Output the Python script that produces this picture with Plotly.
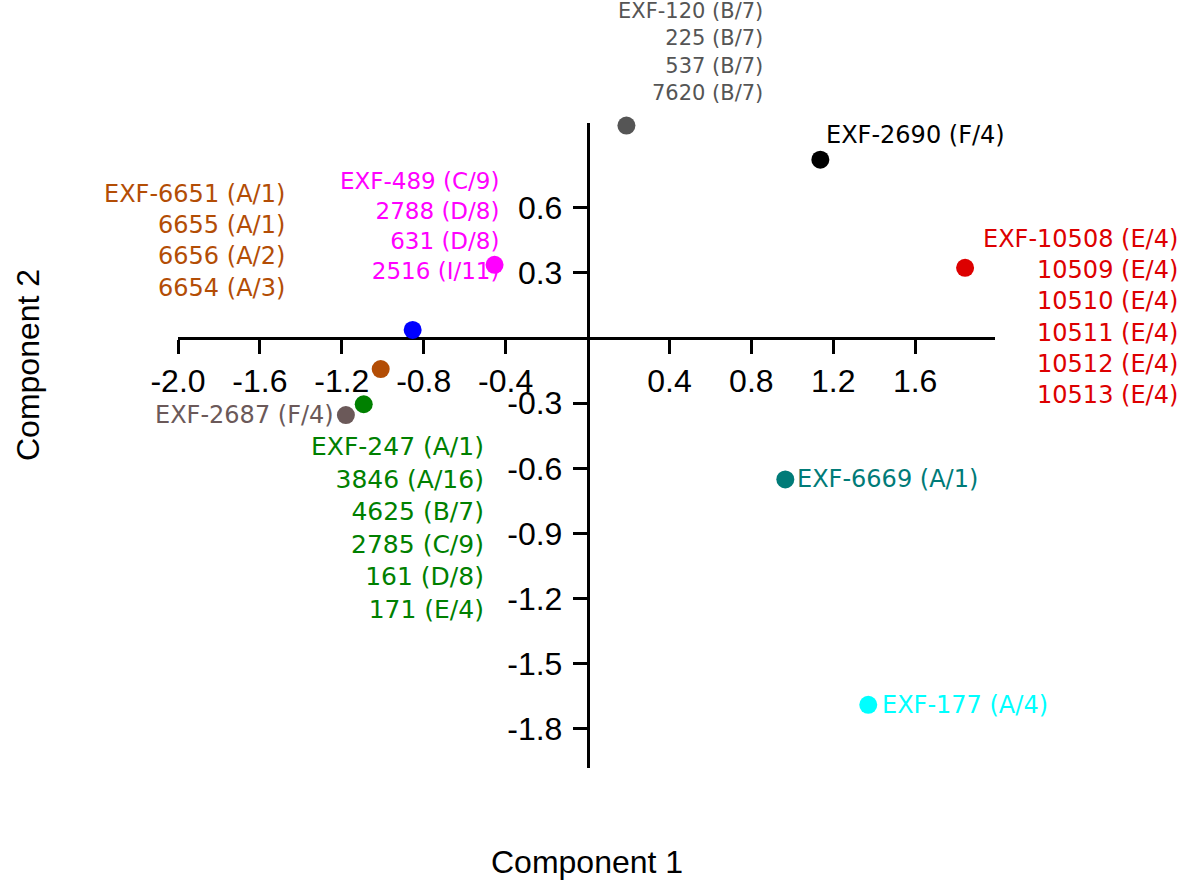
import plotly.graph_objects as go

# ---- data ----
groups = ["gray", "black", "magenta", "red", "blue", "brown", "green", "graybrown", "teal", "cyan"]
comp1 = [0.19, 1.137, -0.454, 1.844, -0.854, -1.01, -1.093, -1.18, 0.966, 1.371]
comp2 = [0.978, 0.821, 0.337, 0.323, 0.037, -0.143, -0.305, -0.355, -0.651, -1.689]
labels = [
    ["EXF-120 (B/7)", "225 (B/7)", "537 (B/7)", "7620 (B/7)"],
    ["EXF-2690 (F/4)"],
    ["EXF-489 (C/9)", "2788 (D/8)", "631 (D/8)", "2516 (I/11)"],
    ["EXF-10508 (E/4)", "10509 (E/4)", "10510 (E/4)", "10511 (E/4)", "10512 (E/4)", "10513 (E/4)"],
    [],
    ["EXF-6651 (A/1)", "6655 (A/1)", "6656 (A/2)", "6654 (A/3)"],
    ["EXF-247 (A/1)", "3846 (A/16)", "4625 (B/7)", "2785 (C/9)", "161 (D/8)", "171 (E/4)"],
    ["EXF-2687 (F/4)"],
    ["EXF-6669 (A/1)"],
    ["EXF-177 (A/4)"],
]
x_ticks = [-2.0, -1.6, -1.2, -0.8, -0.4, 0.4, 0.8, 1.2, 1.6]
y_ticks = [-1.8, -1.5, -1.2, -0.9, -0.6, -0.3, 0.3, 0.6]
x_title = "Component 1"
y_title = "Component 2"

# ---- styles ----
colors = ["#555555", "#000000", "#ff00ff", "#dd0000", "#0000ff", "#b34d05",
          "#008000", "#6b5959", "#007b78", "#00ffff"]
# label placement: (xanchor, yanchor, xshift, yshift, align, fontsize)
placement = [
    ("right", "bottom", 139, 19, "right", 21),
    ("left", "middle", 4, 25, "left", 24),
    ("right", "bottom", 6, -21, "right", 23),
    ("right", "top", 215, 45, "right", 24),
    None,
    ("right", "top", -94, 191, "right", 24),
    ("right", "top", 122, -26, "right", 25),
    ("right", "middle", -10, 0, "right", 24),
    ("left", "middle", 10, 0, "left", 24),
    ("left", "middle", 12, 0, "left", 24),
]

x_range = [-2.0, 1.99]
y_range = [-1.98, 0.99]

fig = go.Figure()
fig.add_trace(go.Scatter(
    x=comp1, y=comp2, mode="markers",
    marker=dict(size=18, color=colors, line=dict(width=0)),
    hoverinfo="skip", showlegend=False, cliponaxis=False,
))

annotations = []
for i, labs in enumerate(labels):
    if not labs or placement[i] is None:
        continue
    xa, ya, xs, ys, al, fs = placement[i]
    annotations.append(dict(
        x=comp1[i], y=comp2[i], xref="x", yref="y",
        text="<br>".join(labs), showarrow=False,
        xanchor=xa, yanchor=ya, xshift=xs, yshift=ys, align=al,
        font=dict(family="Verdana, DejaVu Sans, sans-serif", size=fs, color=colors[i]),
    ))

axis_font = dict(family="Arial, Liberation Sans, sans-serif", size=32, color="#000000")
annotations.append(dict(
    x=0.5006, y=-0.1457, xref="paper", yref="paper", text=x_title, showarrow=False,
    xanchor="center", yanchor="middle", font=axis_font,
))
annotations.append(dict(
    x=-0.1836, y=0.6248, xref="paper", yref="paper", text=y_title, showarrow=False,
    xanchor="center", yanchor="middle", textangle=-90, font=axis_font,
))

fmt = lambda v: "%.1f" % v
tick_font = dict(family="Arial, Liberation Sans, sans-serif", size=32, color="black")

fig.update_layout(
    width=1181, height=885,
    margin=dict(l=178, r=186, t=123, b=117, pad=0),
    paper_bgcolor="white", plot_bgcolor="white",
    annotations=annotations,
    xaxis=dict(
        range=x_range, anchor="free",
        position=(0 - y_range[0]) / (y_range[1] - y_range[0]),
        showgrid=False, zeroline=False, showline=True, linecolor="black", linewidth=2.5,
        ticks="outside", ticklen=14, tickwidth=2.5, tickcolor="black",
        tickvals=x_ticks, ticktext=[fmt(v) for v in x_ticks],
        tickfont=tick_font,
        layer="below traces",
    ),
    yaxis=dict(
        range=y_range, anchor="free",
        position=(0 - x_range[0]) / (x_range[1] - x_range[0]),
        showgrid=False, zeroline=False, showline=True, linecolor="black", linewidth=2.5,
        ticks="outside", ticklen=14, tickwidth=2.5, tickcolor="black",
        tickvals=y_ticks, ticktext=[fmt(v) for v in y_ticks],
        tickfont=tick_font,
        ticklabelstandoff=4,
        layer="below traces",
    ),
)

fig.write_html("out.html", config={"displayModeBar": False},
               post_script="document.body.style.margin='0';")
